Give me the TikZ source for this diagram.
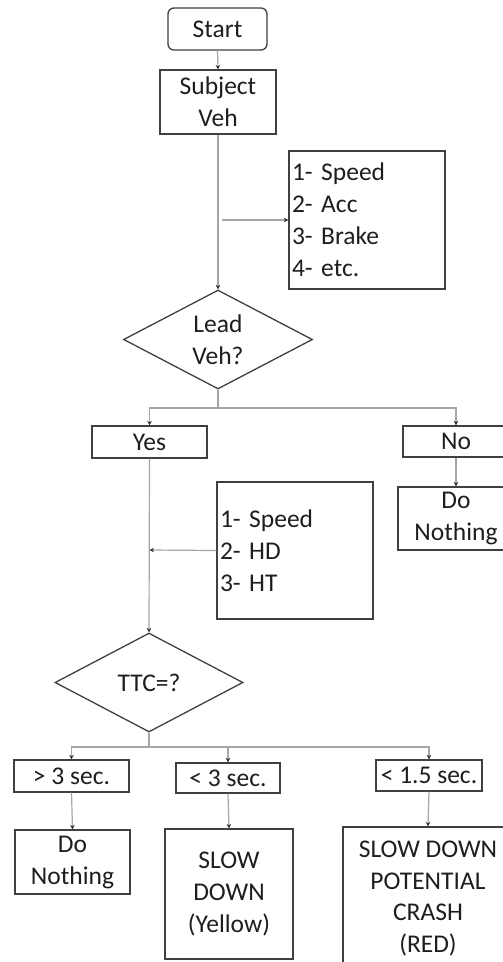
\documentclass[tikz,border=0pt]{standalone}
\usepackage{fontspec}
\setmainfont{Carlito}
\usetikzlibrary{shapes.geometric,arrows.meta}
\definecolor{boxc}{HTML}{404040}
\definecolor{linec}{HTML}{A6A6A6}
\definecolor{arrc}{HTML}{303030}
\definecolor{txt}{HTML}{1E1E1E}
\begin{document}
\begin{tikzpicture}[x=1pt,y=-1pt,
  bx/.style={draw=boxc, line width=1.3pt, inner sep=2pt, align=center,
    font=\fontsize{25.5}{32}\selectfont, text=txt},
  listbx/.style={bx, align=left, inner xsep=3pt},
  dmd/.style={bx, diamond, inner sep=0pt, aspect=1.9},
  conn/.style={draw=linec, line width=1.2pt, -{Stealth[length=4.5pt,width=4.5pt,color=arrc]}},
  plain/.style={draw=linec, line width=1.2pt}
]
\clip (0,0) rectangle (503,962);
\fill[white] (0,0) rectangle (503,962);

% nodes
\node[bx, rounded corners=6pt, minimum width=99, minimum height=42] (start) at (217.5,29) {Start};
\node[bx, minimum width=116, minimum height=64] (subj) at (218,102) {Subject\\Veh};
\node[listbx, minimum width=156, minimum height=138, text width=150] (info1) at (367,220)
  {1- Speed\\2- Acc\\3- Brake\\4- etc.};
\node[dmd, minimum width=189, minimum height=99] (lead) at (218,339.5) {Lead\\Veh?};
\node[bx, minimum width=115, minimum height=32] (yes) at (149.5,442) {Yes};
\node[bx, minimum width=106, minimum height=31] (no) at (456,441.5) {No};
\node[bx, minimum width=116, minimum height=63] (dn1) at (456,518.5) {Do\\Nothing};
\node[listbx, minimum width=156, minimum height=137, text width=150] (info2) at (295,550.5)
  {1- Speed\\2- HD\\3- HT};
\node[dmd, minimum width=188, minimum height=99] (ttc) at (149,682.5) {TTC=?};
\node[bx, minimum width=115, minimum height=32] (gt3) at (71.5,776) {> 3 sec.};
\node[bx, minimum width=104, minimum height=30] (lt3) at (228,778) {< 3 sec.};
\node[bx, inner xsep=1pt, minimum width=106, minimum height=31] (lt15) at (429,775.5) {< 1.5 sec.};
\node[bx, minimum width=115, minimum height=64] (dn2) at (72.5,862) {Do\\Nothing};
\node[bx, minimum width=128, minimum height=130] (slow) at (229,894) {SLOW\\DOWN\\(Yellow)};
\node[bx, minimum width=170, minimum height=143, font=\fontsize{25.5}{31.5}\selectfont] (crash) at (428,898.5)
  {SLOW DOWN\\POTENTIAL\\CRASH\\(RED)};

% junction coordinates
\coordinate (j1) at (222,220);
\coordinate (b1) at (218,408);
\coordinate (j2) at (149.5,550);
\coordinate (b2) at (149,747);

% connectors
\draw[conn] (start.south) -- (subj.north);
\draw[conn] (subj.south) -- (lead.north);
\draw[conn] (j1) -- (info1.west);
\draw[plain] (lead.south) -- (b1);
\draw[conn] (b1) -| (yes.north);
\draw[conn] (b1) -| (no.north);
\draw[conn] (no.south) -- (dn1.north);
\draw[conn] (yes.south) -- (ttc.north);
\draw[conn] (info2.west) -- (j2);
\draw[plain] (ttc.south) -- (b2);
\draw[conn] (b2) -| (gt3.north);
\draw[conn] (b2) -| (lt3.north);
\draw[conn] (b2) -| (lt15.north);
\draw[conn] (gt3.south) -- (dn2.north);
\draw[conn] (lt3.south) -- (slow.north);
\draw[conn] (lt15.south) -- (crash.north);
\end{tikzpicture}
\end{document}
